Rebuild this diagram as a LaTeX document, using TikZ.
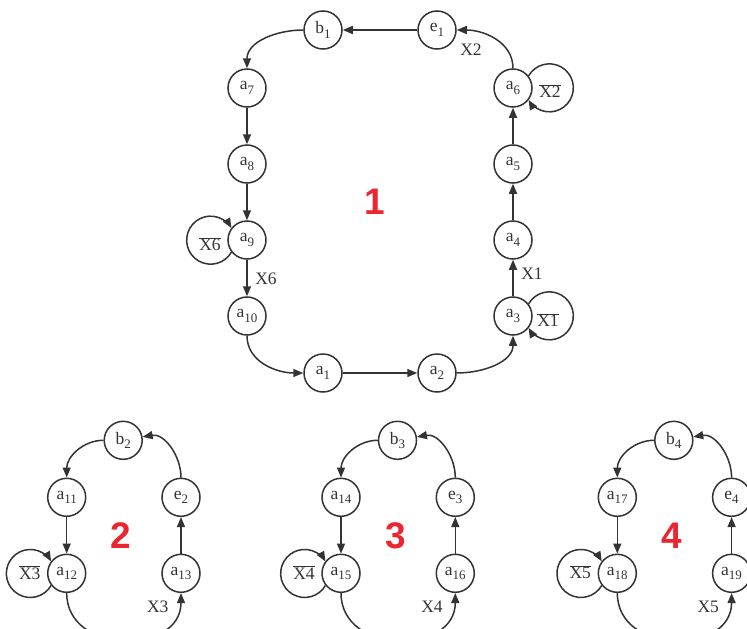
\documentclass[tikz,border=0pt]{standalone}
\usepackage{fontspec}
\setmainfont{Liberation Serif}
\newfontfamily\bignum{Liberation Sans}
\usetikzlibrary{arrows.meta}
\tikzset{arr/.style = {-{Triangle[length=10pt, width=8pt]}}}
\definecolor{mgray}{RGB}{51, 51, 51}
\definecolor{mred}{RGB}{235, 38, 48}
\tikzset{state/.style = {draw, circle, minimum size=38pt, inner sep=0pt},
         lab/.style = {inner sep=0pt},
         num/.style = {text=mred, font=\bignum\bfseries\fontsize{37}{37}\selectfont}}
% letter with a lowered index
\newcommand{\ix}[2]{#1\raisebox{-4.5pt}{\fontsize{13}{13}\selectfont #2}}
% negated condition
\newcommand{\inv}[1]{$\overline{\mbox{#1}}$}

\begin{document}
\begin{tikzpicture}[x=1pt, y=1pt, mgray, line width=1.5pt, font=\fontsize{17.5}{19}\selectfont]
      \useasboundingbox (0, 0) rectangle (747, -629);
      % cycle 1
      \node [state] (b1) at (323, -30) {\ix{b}{1}};
      \node [state] (e1) at (437, -30) {\ix{e}{1}};
      \node [state] (a7) at (247, -88) {\ix{a}{7}};
      \node [state] (a8) at (247, -164) {\ix{a}{8}};
      \node [state] (a9) at (247, -240) {\ix{a}{9}};
      \node [state] (a10) at (247, -316) {\ix{a}{10}};
      \node [state] (a1) at (323, -373) {\ix{a}{1}};
      \node [state] (a2) at (437, -373) {\ix{a}{2}};
      \node [state] (a3) at (513, -316) {\ix{a}{3}};
      \node [state] (a4) at (513, -240) {\ix{a}{4}};
      \node [state] (a5) at (513, -164) {\ix{a}{5}};
      \node [state] (a6) at (513, -88) {\ix{a}{6}};
      \draw [arr] (e1) -- (b1);
      \draw [arr] (b1.west) to [out=180, in=90] (a7.north);
      \draw [arr] (a7) -- (a8);
      \draw [arr] (a8) -- (a9);
      \draw [arr] (a9) -- (a10);
      \draw [arr] (a10.south) to [out=-90, in=180] (a1.west);
      \draw [arr] (a1) -- (a2);
      \draw [arr] (a2.east) to [out=0, in=-90] (a3.south);
      \draw [arr] (a3) -- (a4);
      \draw [arr] (a4) -- (a5);
      \draw [arr] (a5) -- (a6);
      \draw [arr] (a6.north) to [out=90, in=0] (e1.east);
      \draw [arr] (a6.38) arc [start angle=150, end angle=-150, radius=24pt];
      \draw [arr] (a3.38) arc [start angle=150, end angle=-150, radius=24pt];
      \draw [arr] (a9.-142) arc [start angle=-30, end angle=-330, radius=24pt];
      \node [lab] (x2) at (471, -50) {X2};
      \node [lab] (nx2) at (550, -91) {\inv{X2}};
      \node [lab] (x1) at (532, -274) {X1};
      \node [lab] (nx1) at (548, -320) {\inv{X1}};
      \node [lab] (x6) at (266, -279) {X6};
      \node [lab] (nx6) at (210, -244) {\inv{X6}};
      \node [num] (n1) at (375, -201.5) {1};
      % cycle 2
      \begin{scope}[shift={(66.7, -573.3)}]
        \node [state] (a12) at (0, 0) {\ix{a}{12}};
        \node [state] (a11) at (0, 76) {\ix{a}{11}};
        \node [state] (b2) at (56.5, 133) {\ix{b}{2}};
        \node [state] (e2) at (114.3, 76) {\ix{e}{2}};
        \node [state] (a13) at (114.3, 0) {\ix{a}{13}};
        \draw [arr] (e2.north) to [out=90, in=10] (b2.10);
        \draw [arr] (b2.west) to [out=180, in=90] (a11.north);
        \draw [arr] (a11) -- (a12);
        \draw [arr] (a12.south) to [out=-90, in=-90, looseness=1.4] (a13.south);
        \draw [arr] (a13) -- (e2);
        \draw [arr] (a12.-142) arc [start angle=-30, end angle=-330, radius=24pt];
        \node [lab] (nx3) at (-37, 1) {\inv{X3}};
        \node [lab] (x3) at (91, -33.7) {X3};
        \node [num] (n2) at (54.5, 37.5) {2};
      \end{scope}
      % cycle 3
      \begin{scope}[shift={(341, -573.3)}]
        \node [state] (a15) at (0, 0) {\ix{a}{15}};
        \node [state] (a14) at (0, 76) {\ix{a}{14}};
        \node [state] (b3) at (56.5, 133) {\ix{b}{3}};
        \node [state] (e3) at (114.3, 76) {\ix{e}{3}};
        \node [state] (a16) at (114.3, 0) {\ix{a}{16}};
        \draw [arr] (e3.north) to [out=90, in=10] (b3.10);
        \draw [arr] (b3.west) to [out=180, in=90] (a14.north);
        \draw [arr] (a14) -- (a15);
        \draw [arr] (a15.south) to [out=-90, in=-90, looseness=1.4] (a16.south);
        \draw [arr] (a16) -- (e3);
        \draw [arr] (a15.-142) arc [start angle=-30, end angle=-330, radius=24pt];
        \node [lab] (nx4) at (-37, 1) {\inv{X4}};
        \node [lab] (x4) at (91, -33.7) {X4};
        \node [num] (n3) at (54.5, 37.5) {3};
      \end{scope}
      % cycle 4
      \begin{scope}[shift={(617.3, -573.3)}]
        \node [state] (a18) at (0, 0) {\ix{a}{18}};
        \node [state] (a17) at (0, 76) {\ix{a}{17}};
        \node [state] (b4) at (56.5, 133) {\ix{b}{4}};
        \node [state] (e4) at (114.3, 76) {\ix{e}{4}};
        \node [state] (a19) at (114.3, 0) {\ix{a}{19}};
        \draw [arr] (e4.north) to [out=90, in=10] (b4.10);
        \draw [arr] (b4.west) to [out=180, in=90] (a17.north);
        \draw [arr] (a17) -- (a18);
        \draw [arr] (a18.south) to [out=-90, in=-90, looseness=1.4] (a19.south);
        \draw [arr] (a19) -- (e4);
        \draw [arr] (a18.-142) arc [start angle=-30, end angle=-330, radius=24pt];
        \node [lab] (nx5) at (-37, 1) {\inv{X5}};
        \node [lab] (x5) at (91, -33.7) {X5};
        \node [num] (n4) at (54.5, 37.5) {4};
      \end{scope}
    \end{tikzpicture}
\end{document}
